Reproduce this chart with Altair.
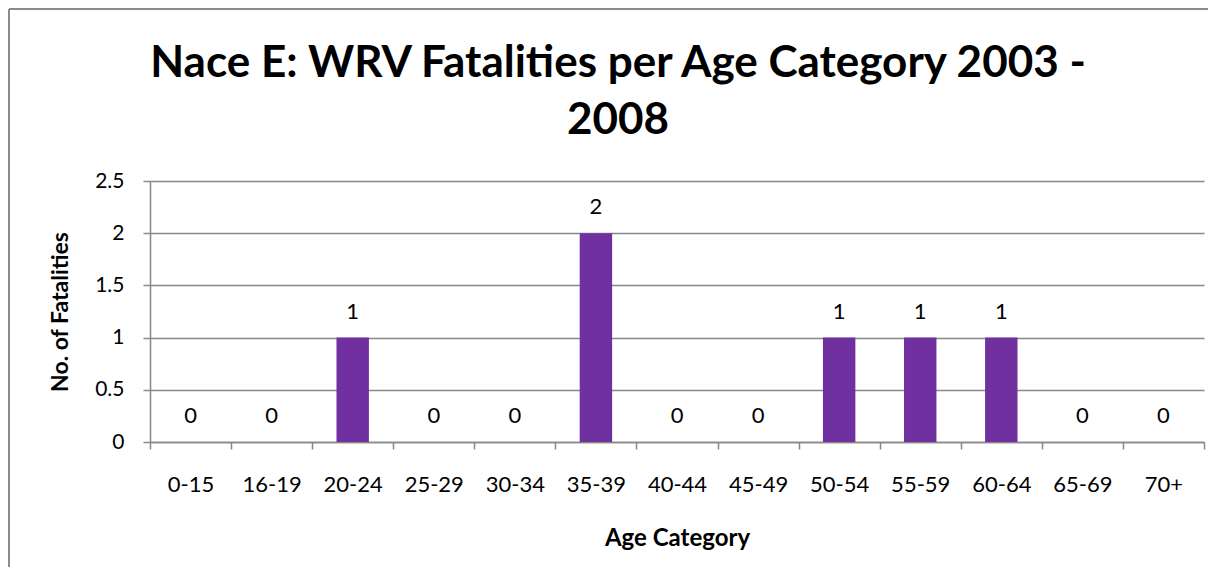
import altair as alt
import pandas as pd

ages = ["0-15", "16-19", "20-24", "25-29", "30-34", "35-39", "40-44",
        "45-49", "50-54", "55-59", "60-64", "65-69", "70+"]
fatalities = [0, 0, 1, 0, 0, 2, 0, 0, 1, 1, 1, 0, 0]
y_ticks = [0, 0.5, 1, 1.5, 2, 2.5]

title_lines = ["Nace E: WRV Fatalities per Age Category 2003 -", "2008"]
x_title = "Age Category"
y_title = "No. of Fatalities"

df = pd.DataFrame({"age": ages, "n": fatalities})

W, H = 1054, 261
FONT = "Lato"
GRAY = "#898989"

x_enc = alt.X(
    "age:N", sort=ages, title=x_title,
    scale=alt.Scale(paddingInner=0, paddingOuter=0),
    axis=alt.Axis(
        tickBand="extent", ticks=True, tickSize=7, tickColor=GRAY, tickWidth=1.5,
        domainColor=GRAY, domainWidth=1.5, labelAngle=0, labelFont=FONT,
        labelFontSize=22, labelColor="black", labelPadding=25, labelBaseline="top",
        titleFont=FONT, titleFontSize=24, titleFontWeight="bold", titleColor="black",
        titleY=96, titleBaseline="middle",
    ),
)
y_enc = alt.Y(
    "n:Q", title=y_title,
    scale=alt.Scale(domain=[0, 2.5], nice=False),
    axis=alt.Axis(
        values=y_ticks, format="~g", grid=True, gridColor=GRAY, gridWidth=1.5,
        ticks=True, tickSize=7, tickColor=GRAY, tickWidth=1.5,
        domainColor=GRAY, domainWidth=1.5, labelFont=FONT, labelFontSize=21,
        labelColor="black", labelPadding=19,
        titleFont=FONT, titleFontSize=23, titleFontWeight="bold", titleColor="black",
        titleX=-90, titleY=H / 2, titleBaseline="middle", titleAngle=270,
    ),
)

base = alt.Chart(df)

bars = base.mark_bar(color="#7030A0", width=alt.RelativeBandSize(0.4)).encode(
    x=x_enc, y=y_enc
)

value_labels = base.mark_text(
    font=FONT, fontSize=22, color="black", baseline="middle", dy=-26
).encode(x=alt.X("age:N", sort=ages), y=alt.Y("n:Q"), text=alt.Text("n:Q"))

frame_df = pd.DataFrame({"k": [0]})
left_border = alt.Chart(frame_df).mark_rule(color="#8c8c8c", strokeWidth=2, clip=False).encode(
    x=alt.value(-141), y=alt.value(-172), y2=alt.value(H + 200)
)
top_border = alt.Chart(frame_df).mark_rule(color="#8c8c8c", strokeWidth=2, clip=False).encode(
    x=alt.value(-141), x2=alt.value(W + 200), y=alt.value(-172)
)

title_mark = alt.Chart(frame_df).mark_text(
    text=title_lines, font=FONT, fontSize=44, fontWeight="bold", color="black",
    align="center", baseline="alphabetic", lineHeight=57, clip=False,
).encode(x=alt.value(468), y=alt.value(-104))

chart = alt.layer(bars, value_labels, left_border, top_border, title_mark).properties(
    width=W, height=H,
    autosize=alt.AutoSizeParams(type="none"),
    padding={"left": 142, "top": 173, "right": 4, "bottom": 125},
).configure_view(stroke=None)

chart.save("out.html", embed_options={"renderer": "svg", "actions": False})
